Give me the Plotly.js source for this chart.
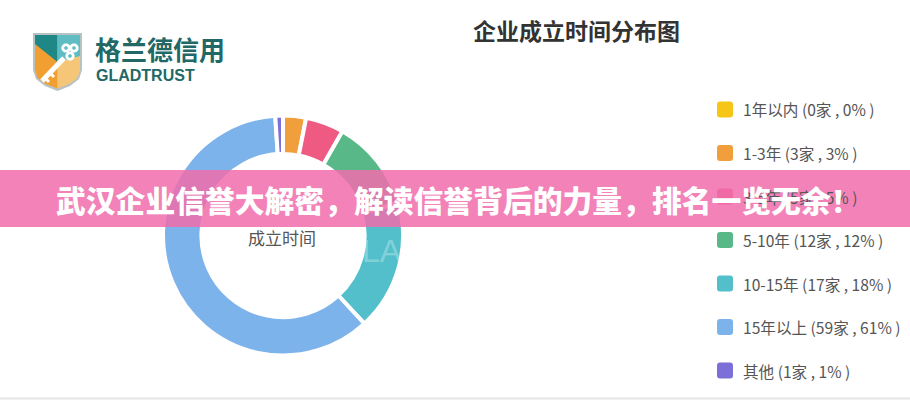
<!DOCTYPE html>
<html>
<head>
<meta charset="utf-8">
<script src="https://cdn.plot.ly/plotly-3.0.1.min.js"></script>
<style>html,body{margin:0;padding:0;background:#fff;}#chart{width:910px;height:400px;}</style>
</head>
<body>
<div id="chart"></div>
<script>
// ---- data ----
var categories = ["1年以内", "1-3年", "3-5年", "5-10年", "10-15年", "15年以上", "其他"];
var counts = [0, 3, 5, 12, 17, 59, 1];
var percents = [0, 3, 5, 12, 18, 61, 1];
var colors = ["#f5c518", "#f09f3c", "#ef5a82", "#58b888", "#52bfcb", "#7db3eb", "#7c6fd8"];
var chartTitle = "企业成立时间分布图";
var centerLabel = "成立时间";
var bannerText = "武汉企业信誉大解密，解读信誉背后的力量，排名一览无余！";
var brandCN = "格兰德信用";
var brandEN = "GLADTRUST";

// ---- helpers (pixel -> paper) ----
var W = 910, H = 400;
function px(x) { return x / W; }
function py(y) { return 1 - y / H; }
function P(pts) {
  return pts.map(function (p, i) { return (i ? "L" : "M") + px(p[0]).toFixed(5) + "," + py(p[1]).toFixed(5); }).join(" ") + " Z";
}
function roundRect(x0, y0, x1, y1, r) {
  return "M" + px(x0 + r) + "," + py(y0) +
    " L" + px(x1 - r) + "," + py(y0) +
    " Q" + px(x1) + "," + py(y0) + " " + px(x1) + "," + py(y0 + r) +
    " L" + px(x1) + "," + py(y1 - r) +
    " Q" + px(x1) + "," + py(y1) + " " + px(x1 - r) + "," + py(y1) +
    " L" + px(x0 + r) + "," + py(y1) +
    " Q" + px(x0) + "," + py(y1) + " " + px(x0) + "," + py(y1 - r) +
    " L" + px(x0) + "," + py(y0 + r) +
    " Q" + px(x0) + "," + py(y0) + " " + px(x0 + r) + "," + py(y0) + " Z";
}
function circlePath(cx, cy, r) {
  var pts = [];
  for (var i = 0; i < 24; i++) { var a = i / 24 * 2 * Math.PI; pts.push([cx + r * Math.cos(a), cy + r * Math.sin(a)]); }
  return P(pts);
}

var cjk = "Noto Sans CJK SC, Noto Sans, sans-serif";

var trace = {
  type: "pie",
  labels: categories,
  values: counts,
  sort: false,
  direction: "clockwise",
  rotation: 0,
  hole: 0.68,
  textinfo: "none",
  hoverinfo: "none",
  showlegend: false,
  marker: { colors: colors, line: { color: "#ffffff", width: 4 } },
  domain: { x: [px(163), px(403)], y: [py(355.5), py(115.5)] }
};

var shapes = [];
var annotations = [];

// legend (built from arrays)
var legY0 = 109.5, legStep = 43.5;
categories.forEach(function (c, i) {
  var yc = legY0 + legStep * i;
  shapes.push({ type: "path", xref: "paper", yref: "paper", path: roundRect(717, yc - 8, 733, yc + 8, 3),
    fillcolor: colors[i], line: { width: 0 }, layer: "below" });
  annotations.push({ xref: "paper", yref: "paper", x: px(741), y: py(yc), xanchor: "left", yanchor: "middle",
    showarrow: false, text: c + " (" + counts[i] + "家 , " + percents[i] + "% )",
    font: { family: cjk, size: 15.6, color: "#555555" } });
});

// title
annotations.push({ xref: "paper", yref: "paper", x: px(576), y: py(30), xanchor: "center", yanchor: "middle",
  showarrow: false, text: chartTitle, font: { family: cjk, size: 23, color: "#333333", weight: 700 } });
// center label
annotations.push({ xref: "paper", yref: "paper", x: px(282), y: py(237), xanchor: "center", yanchor: "middle",
  showarrow: false, text: centerLabel, font: { family: cjk, size: 17, color: "#555555" } });

// faint watermark
annotations.push({ xref: "paper", yref: "paper", x: px(335), y: py(251), xanchor: "left", yanchor: "middle",
  showarrow: false, text: brandEN, font: { family: "Liberation Sans, Arial, sans-serif", size: 32, color: "rgba(255,255,255,0.3)" } });

// logo text
annotations.push({ xref: "paper", yref: "paper", x: px(93), y: py(48), xanchor: "left", yanchor: "middle",
  showarrow: false, text: brandCN, font: { family: cjk, size: 26, color: "#226866", weight: 700 } });
annotations.push({ xref: "paper", yref: "paper", x: px(94), y: py(75.5), xanchor: "left", yanchor: "middle",
  showarrow: false, text: brandEN, font: { family: "Liberation Sans, Arial, sans-serif", size: 16, color: "#226866", weight: 700 } });

// logo shield
shapes.push({ type: "path", xref: "paper", yref: "paper", layer: "above", line: { width: 0 }, fillcolor: "#b9c2c2",
  path: P([[33, 33], [82, 33], [82, 70], [79, 79], [70, 86], [57.5, 91], [45, 86], [36, 79], [33, 70]]) });
shapes.push({ type: "path", xref: "paper", yref: "paper", layer: "above", line: { width: 0 }, fillcolor: "#f09f30",
  path: P([[35, 35], [57.5, 35], [57.5, 88.5], [46, 84], [37.5, 78], [35, 70]]) });
shapes.push({ type: "path", xref: "paper", yref: "paper", layer: "above", line: { width: 0 }, fillcolor: "#f6c678",
  path: P([[57.5, 35], [80, 35], [80, 70], [77.5, 78], [69, 84], [57.5, 88.5]]) });
shapes.push({ type: "path", xref: "paper", yref: "paper", layer: "above", line: { width: 0 }, fillcolor: "#1f8785",
  path: P([[35, 35], [57.5, 35], [57.5, 62], [35, 44]]) });
shapes.push({ type: "path", xref: "paper", yref: "paper", layer: "above", line: { width: 0 }, fillcolor: "#5fbcc2",
  path: P([[57.5, 35], [80, 35], [80, 56], [57.5, 62]]) });
// key
shapes.push({ type: "path", xref: "paper", yref: "paper", layer: "above", line: { color: "#ffffff", width: 5 },
  path: "M" + px(64) + "," + py(58) + " L" + px(42) + "," + py(81) });
shapes.push({ type: "path", xref: "paper", yref: "paper", layer: "above", line: { color: "#ffffff", width: 3 },
  path: "M" + px(50) + "," + py(73) + " L" + px(54) + "," + py(77) + " M" + px(45) + "," + py(78) + " L" + px(49) + "," + py(82) });
[[66, 48], [74, 48], [70, 56]].forEach(function (c) {
  shapes.push({ type: "path", xref: "paper", yref: "paper", layer: "above", line: { width: 0 }, fillcolor: "#ffffff", path: circlePath(c[0], c[1], 4.6) });
  shapes.push({ type: "path", xref: "paper", yref: "paper", layer: "above", line: { width: 0 }, fillcolor: "#5fbcc2", path: circlePath(c[0], c[1], 1.8) });
});

// banner
shapes.push({ type: "rect", xref: "paper", yref: "paper", layer: "above", x0: 0, x1: 1, y0: py(227), y1: py(170),
  fillcolor: "rgba(240,110,172,0.86)", line: { width: 0 } });
annotations.push({ xref: "paper", yref: "paper", x: px(458), y: py(198.5), xanchor: "center", yanchor: "middle",
  showarrow: false, text: bannerText, font: { family: cjk, size: 29.8, color: "#ffffff", weight: 900 } });

// bottom line
shapes.push({ type: "line", xref: "paper", yref: "paper", layer: "above", x0: 0, x1: 1, y0: py(398.5), y1: py(398.5),
  line: { color: "#e4e6e8", width: 2 } });

var layout = {
  width: W, height: H,
  margin: { l: 0, r: 0, t: 0, b: 0 },
  paper_bgcolor: "#ffffff", plot_bgcolor: "#ffffff",
  showlegend: false,
  shapes: shapes,
  annotations: annotations
};
Plotly.newPlot("chart", [trace], layout, { displayModeBar: false, staticPlot: true });
</script>
</body>
</html>
